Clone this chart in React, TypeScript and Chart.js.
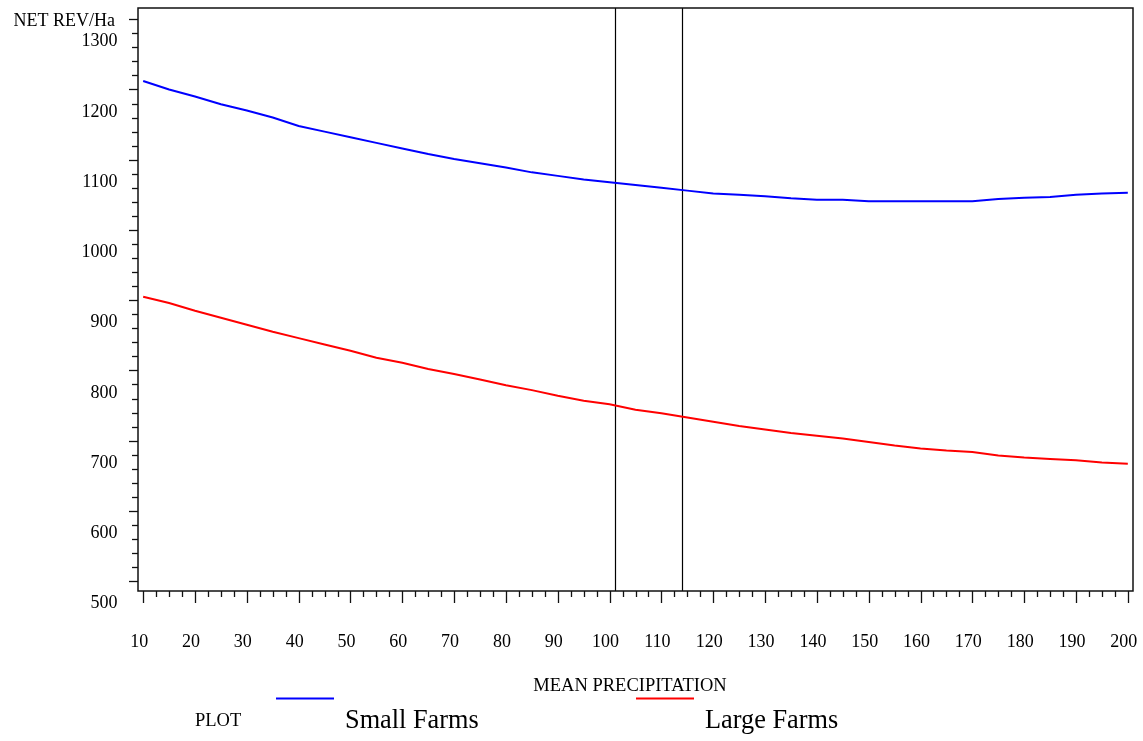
import React, { useEffect, useRef } from 'react';
import { Chart, registerables } from 'chart.js';

Chart.register(...registerables);

// ---- data ----
const precipitation = [
  10, 15, 20, 25, 30, 35, 40, 45, 50, 55, 60, 65, 70, 75, 80, 85, 90, 95, 100,
  105, 110, 115, 120, 125, 130, 135, 140, 145, 150, 155, 160, 165, 170, 175, 180,
  185, 190, 195, 200,
];
const smallFarms = [
  1212, 1200, 1190, 1179, 1170, 1160, 1148, 1140, 1132, 1124, 1116, 1108, 1101,
  1095, 1089, 1082, 1077, 1072, 1068, 1064, 1060, 1056, 1052, 1050, 1048, 1045,
  1043, 1043, 1041, 1041, 1041, 1041, 1041, 1044, 1046, 1047, 1050, 1052, 1053,
];
const largeFarms = [
  905, 896, 885, 875, 865, 855, 846, 837, 828, 818, 811, 802, 795, 787, 779, 772,
  764, 757, 752, 744, 739, 733, 727, 721, 716, 711, 707, 703, 698, 693, 689, 686,
  684, 679, 676, 674, 672, 669, 667,
];
const xTickLabels = [10, 20, 30, 40, 50, 60, 70, 80, 90, 100, 110, 120, 130, 140, 150, 160, 170, 180, 190, 200];
const yTickLabels = [500, 600, 700, 800, 900, 1000, 1100, 1200, 1300];
const referenceLines = [101, 114];
const yAxisTitle = 'NET REV/Ha';
const xAxisTitle = 'MEAN PRECIPITATION';
const legendTitle = 'PLOT';
const seriesNames = ['Small Farms', 'Large Farms'];
const seriesColors = ['#0000ff', '#ff0000'];

const SERIF = '"Liberation Serif", "Times New Roman", Times, serif';

const sasPlugin = {
  id: 'sasDecor',
  beforeDatasetsDraw(chart: any) {
    const { ctx, chartArea, scales } = chart;
    ctx.save();
    ctx.strokeStyle = '#000';
    ctx.lineWidth = 1.2;
    referenceLines.forEach((v) => {
      const x = Math.round(scales.x.getPixelForValue(v)) + 0.5;
      ctx.beginPath();
      ctx.moveTo(x, chartArea.top);
      ctx.lineTo(x, chartArea.bottom);
      ctx.stroke();
    });
    ctx.restore();
  },
  afterDraw(chart: any) {
    const { ctx, chartArea, scales } = chart;
    const { left, right, top, bottom } = chartArea;
    ctx.save();
    // frame
    ctx.strokeStyle = '#111';
    ctx.lineWidth = 1.5;
    ctx.strokeRect(left, top, right - left, bottom - top);
    // x ticks
    ctx.lineWidth = 1.3;
    for (let v = 10; v <= 200.01; v += 2.5) {
      const x = Math.round(scales.x.getPixelForValue(v)) + 0.5;
      const len = Math.abs(v % 10) < 0.01 ? 12 : 6;
      ctx.beginPath();
      ctx.moveTo(x, bottom);
      ctx.lineTo(x, bottom + len);
      ctx.stroke();
    }
    // y ticks
    for (let v = 500; v <= 1300.01; v += 20) {
      const y = Math.round(scales.y.getPixelForValue(v)) + 0.5;
      const len = v % 100 === 0 ? 9 : 6;
      ctx.beginPath();
      ctx.moveTo(left, y);
      ctx.lineTo(left - len, y);
      ctx.stroke();
    }
    // texts
    ctx.fillStyle = '#000';
    ctx.textBaseline = 'alphabetic';
    ctx.font = `18px ${SERIF}`;
    ctx.textAlign = 'right';
    ctx.fillText(yAxisTitle, 115, 26);
    ctx.font = `18.5px ${SERIF}`;
    ctx.textAlign = 'center';
    ctx.fillText(xAxisTitle, 630, 691);
    ctx.textAlign = 'left';
    ctx.fillText(legendTitle, 195, 726);
    // legend
    const lineX = [276, 636];
    const textX = [345, 705];
    ctx.lineWidth = 2;
    seriesNames.forEach((name, i) => {
      ctx.strokeStyle = seriesColors[i];
      ctx.beginPath();
      ctx.moveTo(lineX[i], 698.5);
      ctx.lineTo(lineX[i] + 58, 698.5);
      ctx.stroke();
      ctx.font = `26.3px ${SERIF}`;
      ctx.fillStyle = '#000';
      ctx.fillText(name, textX[i], 728);
    });
    ctx.restore();
  },
};

const zeroPadding = (s: any) => {
  s.paddingTop = 0;
  s.paddingBottom = 0;
  s.paddingLeft = 0;
  s.paddingRight = 0;
};

export default function App() {
  const canvasRef = useRef<HTMLCanvasElement | null>(null);

  useEffect(() => {
    const canvas = canvasRef.current;
    if (!canvas) return;
    const chart = new Chart(canvas, {
      type: 'line',
      data: {
        datasets: [
          {
            label: seriesNames[0],
            data: precipitation.map((x, i) => ({ x, y: smallFarms[i] })),
            borderColor: seriesColors[0],
            borderWidth: 2,
            pointRadius: 0,
            tension: 0,
            fill: false,
          },
          {
            label: seriesNames[1],
            data: precipitation.map((x, i) => ({ x, y: largeFarms[i] })),
            borderColor: seriesColors[1],
            borderWidth: 2,
            pointRadius: 0,
            tension: 0,
            fill: false,
          },
        ],
      },
      options: {
        animation: false,
        responsive: false,
        devicePixelRatio: 1,
        layout: { padding: { left: 0, top: 8, right: 10, bottom: 0 } },
        plugins: {
          legend: { display: false },
          tooltip: { enabled: false },
        },
        scales: {
          x: {
            type: 'linear',
            min: 9,
            max: 201,
            grid: { display: false, drawTicks: false },
            border: { display: false },
            afterBuildTicks: (s: any) => {
              s.ticks = xTickLabels.map((v) => ({ value: v }));
            },
            afterFit: (s: any) => {
              s.height = 150;
              zeroPadding(s);
            },
            ticks: {
              color: '#000',
              font: { family: SERIF, size: 18 },
              padding: 40,
              labelOffset: -4,
              maxRotation: 0,
              autoSkip: false,
              callback: (v: any) => String(v),
            },
          },
          y: {
            type: 'linear',
            min: 486,
            max: 1316,
            grid: { display: false, drawTicks: false },
            border: { display: false },
            afterBuildTicks: (s: any) => {
              s.ticks = yTickLabels.map((v) => ({ value: v }));
            },
            afterFit: (s: any) => {
              s.width = 138;
              zeroPadding(s);
            },
            ticks: {
              color: '#000',
              font: { family: SERIF, size: 18 },
              padding: 20.5,
              labelOffset: 22.5,
              autoSkip: false,
              callback: (v: any) => String(v),
            },
          },
        },
      },
      plugins: [sasPlugin],
    } as any);
    return () => chart.destroy();
  }, []);

  return (
    <div style={{ position: 'fixed', left: 0, top: 0, width: 1143, height: 741, background: '#fff' }}>
      <canvas ref={canvasRef} width={1143} height={741} style={{ width: 1143, height: 741, display: 'block' }} />
    </div>
  );
}
